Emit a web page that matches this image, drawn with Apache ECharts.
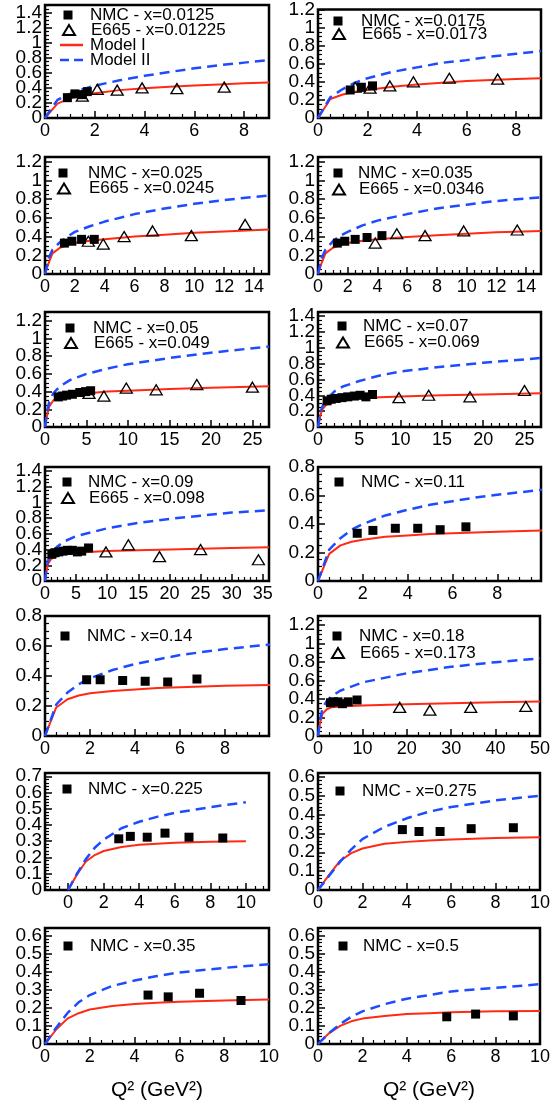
<!DOCTYPE html>
<html><head><meta charset="utf-8">
<script src="https://cdn.jsdelivr.net/npm/echarts@6/dist/echarts.min.js"></script>
<style>html,body{margin:0;padding:0;background:#fff}#c{width:553px;height:1113px}</style>
</head><body><div id="c"></div>
<script>
// ---------------- DATA ----------------
const nmcLabels = ['NMC - x=0.0125','NMC - x=0.0175','NMC - x=0.025','NMC - x=0.035','NMC - x=0.05','NMC - x=0.07','NMC - x=0.09','NMC - x=0.11','NMC - x=0.14','NMC - x=0.18','NMC - x=0.225','NMC - x=0.275','NMC - x=0.35','NMC - x=0.5'];
const e665Labels = ['E665 - x=0.01225','E665 - x=0.0173','E665 - x=0.0245','E665 - x=0.0346','E665 - x=0.049','E665 - x=0.069','E665 - x=0.098',null,null,'E665 - x=0.173',null,null,null,null];
const modelNames = ['Model I','Model II'];

// axis ranges and tick steps (tick labels)
const xMin  = [0,0,0,0,0,0,0,0,0,0,-1.3,0,0,0];
const xMax  = [9,9,15,15,27,27,36,9.95,9.95,50,11.3,10,10,10];
const xStep = [2,2,2,2,5,5,5,2,2,10,2,2,2,2];
const yMax  = [1.5,1.2,1.25,1.25,1.3,1.45,1.45,0.8,0.8,1.3,0.72,0.62,0.64,0.64];
const yStep = [0.2,0.2,0.2,0.2,0.2,0.2,0.2,0.2,0.2,0.2,0.1,0.1,0.1,0.1];

// NMC (filled squares) [Q2, value]
const nmc1  = [[0.9,0.27],[1.2,0.32],[1.5,0.31],[1.7,0.35]];
const nmc2  = [[1.3,0.31],[1.75,0.34],[2.2,0.355]];
const nmc3  = [[1.3,0.33],[1.8,0.35],[2.45,0.37],[3.3,0.37]];
const nmc4  = [[1.3,0.33],[1.8,0.35],[2.5,0.37],[3.3,0.39],[4.3,0.41]];
const nmc5  = [[1.6,0.34],[2.1,0.35],[2.6,0.36],[3.3,0.37],[4.2,0.39],[4.9,0.40],[5.5,0.41]];
const nmc6  = [[1.1,0.33],[1.6,0.35],[2.2,0.36],[2.9,0.37],[3.6,0.38],[4.4,0.39],[5.1,0.40],[5.8,0.38],[6.6,0.41]];
const nmc7  = [[1.1,0.34],[1.6,0.36],[2.2,0.37],[2.9,0.38],[3.6,0.39],[4.4,0.39],[5.2,0.37],[5.9,0.38],[7.0,0.42]];
const nmc8  = [[1.75,0.335],[2.45,0.355],[3.45,0.37],[4.45,0.37],[5.45,0.36],[6.6,0.38]];
const nmc9  = [[1.85,0.375],[2.45,0.375],[3.45,0.37],[4.45,0.365],[5.45,0.36],[6.75,0.38]];
const nmc10 = [[2.8,0.36],[3.5,0.37],[4.5,0.37],[5.5,0.35],[6.8,0.37],[8.8,0.39]];
const nmc11 = [[2.85,0.315],[3.5,0.33],[4.45,0.325],[5.45,0.35],[6.8,0.325],[8.7,0.32]];
const nmc12 = [[3.8,0.32],[4.55,0.31],[5.5,0.31],[6.9,0.325],[8.8,0.33]];
const nmc13 = [[4.6,0.27],[5.5,0.26],[6.9,0.28],[8.75,0.24]];
const nmc14 = [[5.8,0.15],[7.1,0.165],[8.8,0.155]];

// E665 (open triangles)
const e665_1  = [[1.5,0.29],[2.1,0.38],[2.9,0.37],[3.9,0.40],[5.3,0.39],[7.2,0.41]];
const e665_2  = [[1.5,0.34],[2.1,0.33],[2.9,0.355],[3.85,0.40],[5.3,0.44],[7.25,0.43]];
const e665_3  = [[2.9,0.35],[3.9,0.32],[5.3,0.40],[7.2,0.46],[9.8,0.41],[13.4,0.53]];
const e665_4  = [[3.85,0.33],[5.3,0.43],[7.2,0.41],[9.8,0.46],[13.4,0.47]];
const e665_5  = [[5.3,0.38],[7.1,0.35],[9.8,0.44],[13.4,0.42],[18.3,0.48],[25,0.45]];
const e665_6  = [[9.8,0.37],[13.4,0.40],[18.4,0.38],[25,0.46]];
const e665_7  = [[9.8,0.37],[13.4,0.46],[18.4,0.31],[25,0.40],[34.3,0.27]];
const e665_10 = [[18.4,0.31],[25.2,0.28],[34.4,0.31],[46.8,0.32]];

// Model I (solid red) curves
const m1_1  = [[0,0],[0.5,0.19],[1,0.26],[1.5,0.30],[2,0.33],[3,0.37],[4,0.395],[5,0.415],[6,0.43],[7,0.445],[8,0.46],[9,0.47]];
const m1_2  = [[0,0],[0.5,0.21],[1,0.26],[1.5,0.29],[2,0.31],[3,0.345],[4,0.37],[5,0.39],[6,0.41],[7,0.42],[8,0.43],[9,0.44]];
const m1_3  = [[0,0],[0.25,0.12],[0.5,0.22],[1,0.28],[1.5,0.31],[2,0.33],[3,0.355],[4,0.37],[6,0.40],[8,0.42],[10,0.44],[12,0.455],[15,0.475]];
const m1_4  = [[0,0],[0.25,0.12],[0.5,0.22],[1,0.28],[1.5,0.31],[2,0.33],[3,0.355],[4,0.37],[6,0.395],[8,0.415],[10,0.43],[12,0.445],[15,0.46]];
const m1_5  = [[0,0],[0.25,0.13],[0.5,0.23],[1,0.30],[1.5,0.33],[2,0.345],[3,0.36],[5,0.38],[7.5,0.40],[10,0.41],[15,0.43],[20,0.445],[27,0.46]];
const m1_6  = [[0,0],[0.25,0.13],[0.5,0.22],[1,0.28],[2,0.32],[3,0.34],[5,0.36],[7.5,0.375],[10,0.385],[15,0.40],[20,0.41],[27,0.425]];
const m1_7  = [[0,0],[0.25,0.13],[0.5,0.22],[1,0.28],[2,0.32],[3,0.34],[5,0.36],[10,0.38],[15,0.39],[20,0.40],[25,0.41],[30,0.42],[36,0.43]];
const m1_8  = [[0,0],[0.5,0.19],[1,0.25],[1.5,0.275],[2,0.29],[3,0.31],[4,0.32],[5,0.33],[6,0.335],[7,0.34],[8,0.345],[10,0.355]];
const m1_9  = [[0,0],[0.5,0.19],[1,0.245],[1.5,0.27],[2,0.285],[3,0.30],[4,0.31],[5,0.32],[6,0.325],[8,0.335],[10,0.34]];
const m1_10 = [[0,0],[0.5,0.15],[1,0.24],[2,0.29],[3,0.31],[5,0.32],[10,0.33],[20,0.345],[30,0.355],[40,0.365],[50,0.375]];
const m1_11 = [[0,0],[0.5,0.095],[1,0.175],[1.5,0.215],[2,0.24],[3,0.265],[4,0.278],[5,0.285],[6,0.29],[8,0.297],[10,0.30]];
const m1_12 = [[0,0],[0.5,0.08],[1,0.155],[1.5,0.195],[2,0.22],[3,0.245],[4,0.255],[5,0.262],[6,0.267],[8,0.275],[10,0.28]];
const m1_13 = [[0,0],[0.5,0.08],[1,0.14],[1.5,0.17],[2,0.19],[3,0.21],[4,0.22],[5,0.228],[6,0.233],[8,0.24],[10,0.245]];
const m1_14 = [[0,0],[0.5,0.06],[1,0.10],[1.5,0.125],[2,0.14],[3,0.155],[4,0.165],[5,0.17],[6,0.175],[8,0.18],[10,0.182]];

// Model II (dashed blue) curves
const m2_1  = [[0,0],[0.5,0.24],[1,0.32],[1.5,0.38],[2,0.43],[3,0.50],[4,0.56],[5,0.61],[6,0.66],[7,0.70],[8,0.735],[9,0.77]];
const m2_2  = [[0,0],[0.5,0.23],[1,0.32],[1.5,0.39],[2,0.44],[3,0.51],[4,0.56],[5,0.61],[6,0.64],[7,0.68],[8,0.71],[9,0.74]];
const m2_3  = [[0,0],[0.25,0.17],[0.5,0.26],[1,0.34],[1.5,0.40],[2,0.45],[3,0.51],[4,0.56],[6,0.64],[8,0.70],[10,0.75],[12,0.79],[15,0.84]];
const m2_4  = [[0,0],[0.25,0.17],[0.5,0.26],[1,0.35],[1.5,0.41],[2,0.45],[3,0.52],[4,0.57],[6,0.64],[8,0.70],[10,0.74],[12,0.78],[15,0.82]];
const m2_5  = [[0,0],[0.25,0.17],[0.5,0.28],[1,0.38],[1.5,0.43],[2,0.47],[3,0.53],[5,0.60],[7.5,0.66],[10,0.71],[15,0.78],[20,0.84],[27,0.91]];
const m2_6  = [[0,0],[0.25,0.16],[0.5,0.25],[1,0.35],[2,0.45],[3,0.51],[5,0.58],[7.5,0.65],[10,0.70],[15,0.76],[20,0.81],[27,0.87]];
const m2_7  = [[0,0],[0.25,0.17],[0.5,0.26],[1,0.35],[2,0.44],[3,0.50],[5,0.57],[10,0.67],[15,0.74],[20,0.79],[25,0.83],[30,0.87],[36,0.90]];
const m2_8  = [[0,0],[0.5,0.22],[1,0.30],[1.5,0.36],[2,0.40],[3,0.46],[4,0.50],[5,0.535],[6,0.56],[7,0.585],[8,0.605],[10,0.64]];
const m2_9  = [[0,0],[0.5,0.21],[1,0.29],[1.5,0.345],[2,0.385],[3,0.44],[4,0.48],[5,0.51],[6,0.54],[8,0.58],[10,0.61]];
const m2_10 = [[0,0],[0.5,0.18],[1,0.30],[2,0.38],[3,0.43],[5,0.49],[10,0.58],[20,0.68],[30,0.75],[40,0.80],[50,0.84]];
const m2_11 = [[0,0],[0.5,0.10],[1,0.19],[1.5,0.26],[2,0.31],[3,0.38],[4,0.42],[5,0.45],[6,0.475],[8,0.51],[10,0.54]];
const m2_12 = [[0,0],[0.5,0.075],[1,0.15],[1.5,0.215],[2,0.27],[3,0.335],[4,0.38],[5,0.415],[6,0.44],[8,0.475],[10,0.50]];
const m2_13 = [[0,0],[0.5,0.09],[1,0.17],[1.5,0.23],[2,0.27],[3,0.32],[4,0.35],[5,0.375],[6,0.395],[8,0.42],[10,0.44]];
const m2_14 = [[0,0],[0.5,0.06],[1,0.11],[1.5,0.15],[2,0.18],[3,0.22],[4,0.25],[5,0.27],[6,0.29],[8,0.31],[10,0.33]];

const nmcSets  = [nmc1,nmc2,nmc3,nmc4,nmc5,nmc6,nmc7,nmc8,nmc9,nmc10,nmc11,nmc12,nmc13,nmc14];
const e665Sets = [e665_1,e665_2,e665_3,e665_4,e665_5,e665_6,e665_7,null,null,e665_10,null,null,null,null];
const m1Sets   = [m1_1,m1_2,m1_3,m1_4,m1_5,m1_6,m1_7,m1_8,m1_9,m1_10,m1_11,m1_12,m1_13,m1_14];
const m2Sets   = [m2_1,m2_2,m2_3,m2_4,m2_5,m2_6,m2_7,m2_8,m2_9,m2_10,m2_11,m2_12,m2_13,m2_14];

// ---------------- LAYOUT ----------------
const colLeft = [45, 318], colWidth = [224, 223];
const rowTop = [5, 157, 312, 467, 616, 773, 928];
const rowBottom = [118, 274, 427, 581, 736, 890, 1044];
// legend: [symbol centre x, text x, first row centre y, row step]
const legPos = [
  [68,90,15,15],[338,361,21,13],[63,88,173,15.5],[338,358,173,16.5],
  [70,93,328,15],[342,363,326,16.5],[67,88,482,16],[339,361,482,0],
  [65,87,636,0],[337,359,636,17],[67,88,789,0],[340,362,791,0],
  [68,90,946,0],[343,363,946,0]
];
const FONT = '"Liberation Sans", Arial, Helvetica, sans-serif';
const RED = '#ff2a14', BLUE = '#1f4bff';
const XTICK_FS = 18, YTICK_FS = 19, LEG_FS = 17;
const EPS = 1e-4; // keeps 0 and the top tick as ordinary ticks so their labels are not auto-hidden

const stepFmt = step => v => {
  const r = v / step;
  if (Math.abs(r - Math.round(r)) > 1e-6) return '';
  return String(+v.toFixed(4));
};

const grids = [], xAxes = [], yAxes = [], series = [], legends = [];
for (let i = 0; i < 14; i++) {
  const col = i % 2, row = Math.floor(i / 2);
  grids.push({left: colLeft[col], width: colWidth[col], top: rowTop[row], height: rowBottom[row] - rowTop[row],
    show: true, borderColor: '#000', borderWidth: 2.5, backgroundColor: 'transparent'});
  xAxes.push({type: 'value', gridIndex: i, min: xMin[i], max: xMax[i], minInterval: xStep[i], maxInterval: xStep[i], splitNumber: 6,
    axisLine: {show: false, onZero: false}, splitLine: {show: false},
    axisTick: {inside: true, length: 7, lineStyle: {color: '#000', width: 1.5}},
    minorTick: {show: true, splitNumber: xStep[i] === 5 ? 5 : 4, length: 4, lineStyle: {color: '#000', width: 1.2}},
    axisLabel: {color: '#000', fontSize: XTICK_FS, fontFamily: FONT, margin: 7, lineHeight: 12, formatter: stepFmt(xStep[i])},
    name: row === 6 ? 'Q² (GeV²)' : '', nameLocation: 'middle', nameGap: 36,
    nameTextStyle: {color: '#000', fontSize: 21, fontFamily: FONT}
  });
  yAxes.push({type: 'value', gridIndex: i, min: -EPS, max: yMax[i] + EPS, minInterval: yStep[i], maxInterval: yStep[i], splitNumber: 8,
    axisLine: {show: false, onZero: false}, splitLine: {show: false},
    axisTick: {inside: true, length: 7, lineStyle: {color: '#000', width: 1.5}},
    minorTick: {show: true, splitNumber: yStep[i] === 0.1 ? 5 : 4, length: 4, lineStyle: {color: '#000', width: 1.2}},
    axisLabel: {color: '#000', fontSize: YTICK_FS, fontFamily: FONT, margin: 3, lineHeight: 10, formatter: stepFmt(yStep[i])}
  });
  const nName = nmcLabels[i], eName = e665Labels[i];
  const mI = modelNames[0] + (i ? ' #' + i : ''), mII = modelNames[1] + (i ? ' #' + i : '');
  series.push({type: 'line', name: mI, xAxisIndex: i, yAxisIndex: i, data: m1Sets[i], symbol: 'none', showSymbol: false,
    lineStyle: {color: RED, width: 2}, itemStyle: {color: RED}, z: 2, animation: false});
  series.push({type: 'line', name: mII, xAxisIndex: i, yAxisIndex: i, data: m2Sets[i], symbol: 'none', showSymbol: false,
    lineStyle: {color: BLUE, width: 2.5, type: [10, 6]}, itemStyle: {color: BLUE}, z: 2, animation: false});
  series.push({type: 'scatter', name: nName, xAxisIndex: i, yAxisIndex: i, data: nmcSets[i], symbol: 'rect', symbolSize: 9,
    itemStyle: {color: '#000', opacity: 1}, z: 4, animation: false});
  if (eName) series.push({type: 'scatter', name: eName, xAxisIndex: i, yAxisIndex: i, data: e665Sets[i], symbol: 'triangle', symbolSize: [12, 10],
    itemStyle: {color: 'rgba(255,255,255,0)', borderColor: '#000', borderWidth: 1.3, opacity: 1}, z: 5, animation: false});

  // legends: one component per entry
  const [sx, tx, y0, dy] = legPos[i];
  const entries = [{name: nName, kind: 's'}];
  if (eName) entries.push({name: eName, kind: 't'});
  if (i === 0) { entries.push({name: mI, kind: 'l1'}); entries.push({name: mII, kind: 'l2'}); }
  entries.forEach((e, k) => {
    const cy = y0 + k * dy;
    if (e.kind === 'l1' || e.kind === 'l2') {
      const icon = e.kind === 'l1' ? 'path://M0,0h23v2.5h-23z' : 'path://M0,0h9v2.5h-9z M14,0h9v2.5h-9z';
      legends.push({show: true, left: tx - 30, top: cy - 8.5, padding: 0, itemWidth: 23, itemHeight: 2.5, selectedMode: false,
        data: [{name: e.name, icon: icon}],
        textStyle: {color: '#000', fontSize: LEG_FS, fontFamily: FONT, lineHeight: 17, padding: [0, 0, 0, 2]},
        formatter: n => n.replace(/ #\d+$/, '')});
    } else {
      const w = e.kind === 's' ? 9 : 12, h = e.kind === 's' ? 9 : 10;
      const pad = Math.max(0, tx - (sx + w / 2) - 5);
      legends.push({show: true, left: sx - w / 2, top: cy - 8.5, padding: 0, itemWidth: w, itemHeight: h, selectedMode: false,
        data: [{name: e.name, icon: e.kind === 's' ? 'rect' : 'triangle'}],
        textStyle: {color: '#000', fontSize: LEG_FS, fontFamily: FONT, lineHeight: 17, padding: [0, 0, 0, pad]}});
    }
  });
}

const chart = echarts.init(document.getElementById('c'), null, {renderer: 'canvas'});
chart.setOption({animation: false, backgroundColor: '#fff', grid: grids, xAxis: xAxes, yAxis: yAxes, series: series, legend: legends});
</script></body></html>
